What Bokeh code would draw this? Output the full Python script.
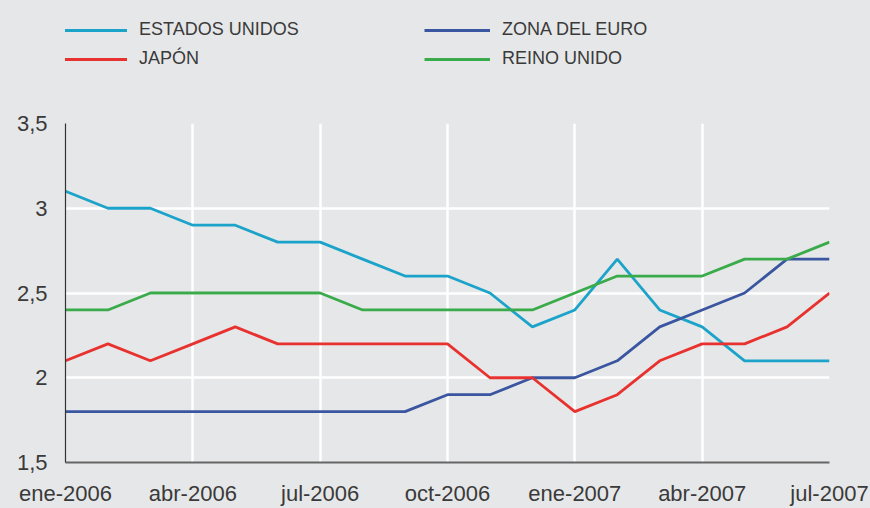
from bokeh.plotting import figure
from bokeh.layouts import column
from bokeh.models import (Range1d, FixedTicker, CustomJSTickFormatter, Legend, LegendItem)
from bokeh.embed import file_html
from bokeh.resources import INLINE

months = ["ene-2006", "feb-2006", "mar-2006", "abr-2006", "may-2006", "jun-2006",
          "jul-2006", "ago-2006", "sep-2006", "oct-2006", "nov-2006", "dic-2006",
          "ene-2007", "feb-2007", "mar-2007", "abr-2007", "may-2007", "jun-2007",
          "jul-2007"]
estados_unidos = [3.1, 3.0, 3.0, 2.9, 2.9, 2.8, 2.8, 2.7, 2.6, 2.6, 2.5, 2.3, 2.4, 2.7, 2.4, 2.3, 2.1, 2.1, 2.1]
zona_euro = [1.8, 1.8, 1.8, 1.8, 1.8, 1.8, 1.8, 1.8, 1.8, 1.9, 1.9, 2.0, 2.0, 2.1, 2.3, 2.4, 2.5, 2.7, 2.7]
japon = [2.1, 2.2, 2.1, 2.2, 2.3, 2.2, 2.2, 2.2, 2.2, 2.2, 2.0, 2.0, 1.8, 1.9, 2.1, 2.2, 2.2, 2.3, 2.5]
reino_unido = [2.4, 2.4, 2.5, 2.5, 2.5, 2.5, 2.5, 2.4, 2.4, 2.4, 2.4, 2.4, 2.5, 2.6, 2.6, 2.6, 2.7, 2.7, 2.8]
series_names = ["ESTADOS UNIDOS", "ZONA DEL EURO", "JAPÓN", "REINO UNIDO"]
series_colors = ["#1ba3c9", "#3b56a0", "#e8322f", "#3aab4a"]
y_ticks = [1.5, 2.0, 2.5, 3.0, 3.5]
x_tick_step = 3

x = list(range(len(months)))
series = [estados_unidos, zona_euro, japon, reino_unido]
BG = "#e6e7e8"
TXT = "#3a3a3a"

# ---- main chart ----
p = figure(width=870, height=418, output_backend="svg", toolbar_location=None,
           x_range=Range1d(0, len(months) - 1), y_range=Range1d(y_ticks[0], y_ticks[-1]),
           min_border_left=65, min_border_right=41, min_border_top=33, min_border_bottom=44)
p.background_fill_color = BG
p.border_fill_color = BG
p.outline_line_color = None

p.xaxis.ticker = FixedTicker(ticks=x[::x_tick_step])
p.xaxis.formatter = CustomJSTickFormatter(args=dict(labels=months),
                                          code="return labels[Math.round(tick)] || '';")
p.yaxis.ticker = FixedTicker(ticks=y_ticks)
p.yaxis.formatter = CustomJSTickFormatter(code="return tick.toString().replace('.', ',');")

for ax in (p.xaxis[0], p.yaxis[0]):
    ax.major_tick_in = 0
    ax.major_tick_out = 0
    ax.minor_tick_in = 0
    ax.minor_tick_out = 0
    ax.major_label_text_font = "Liberation Sans"
    ax.major_label_text_font_size = "22px"
    ax.major_label_text_color = TXT
p.xaxis.axis_line_color = "#666666"
p.xaxis.axis_line_width = 2
p.yaxis.axis_line_color = "#333333"
p.yaxis.axis_line_width = 1.2
p.xaxis.major_label_standoff = 18
p.yaxis.major_label_standoff = 18

p.xgrid.ticker = FixedTicker(ticks=x[::x_tick_step])
p.ygrid.ticker = FixedTicker(ticks=y_ticks)
for g in (p.xgrid[0], p.ygrid[0]):
    g.grid_line_color = "white"
    g.grid_line_width = 2.5

for ys, c in zip(series, series_colors):
    p.line(x, ys, line_color=c, line_width=2.8)

# ---- legend strip above ----
pl = figure(width=870, height=90, output_backend="svg", toolbar_location=None,
            x_axis_type=None, y_axis_type=None,
            x_range=Range1d(0, len(months) - 1), y_range=Range1d(y_ticks[0], y_ticks[-1]),
            min_border_left=0, min_border_right=0, min_border_top=0, min_border_bottom=0)
pl.background_fill_color = BG
pl.border_fill_color = BG
pl.outline_line_color = None
pl.grid.visible = False

leg_items = {}
for name, ys, c in zip(series_names, series, series_colors):
    r = pl.line(x, ys, line_color=c, line_width=2.8, visible=False)
    leg_items[name] = LegendItem(label=name, renderers=[r])

legend = Legend(items=[leg_items["ESTADOS UNIDOS"], leg_items["JAPÓN"],
                       leg_items["ZONA DEL EURO"], leg_items["REINO UNIDO"]],
                location=(-4, 21), orientation="vertical", nrows=2,
                glyph_width=66, glyph_height=20, label_height=20, label_width=277,
                label_standoff=12, spacing=8, padding=0, margin=0,
                background_fill_alpha=0, border_line_color=None,
                inactive_fill_alpha=0,
                label_text_font="Liberation Sans", label_text_font_size="18px",
                label_text_color=TXT)
pl.add_layout(legend, "center")

layout = column(pl, p, spacing=0, styles={"background-color": BG})
open("out.html", "w").write(file_html(layout, INLINE))
